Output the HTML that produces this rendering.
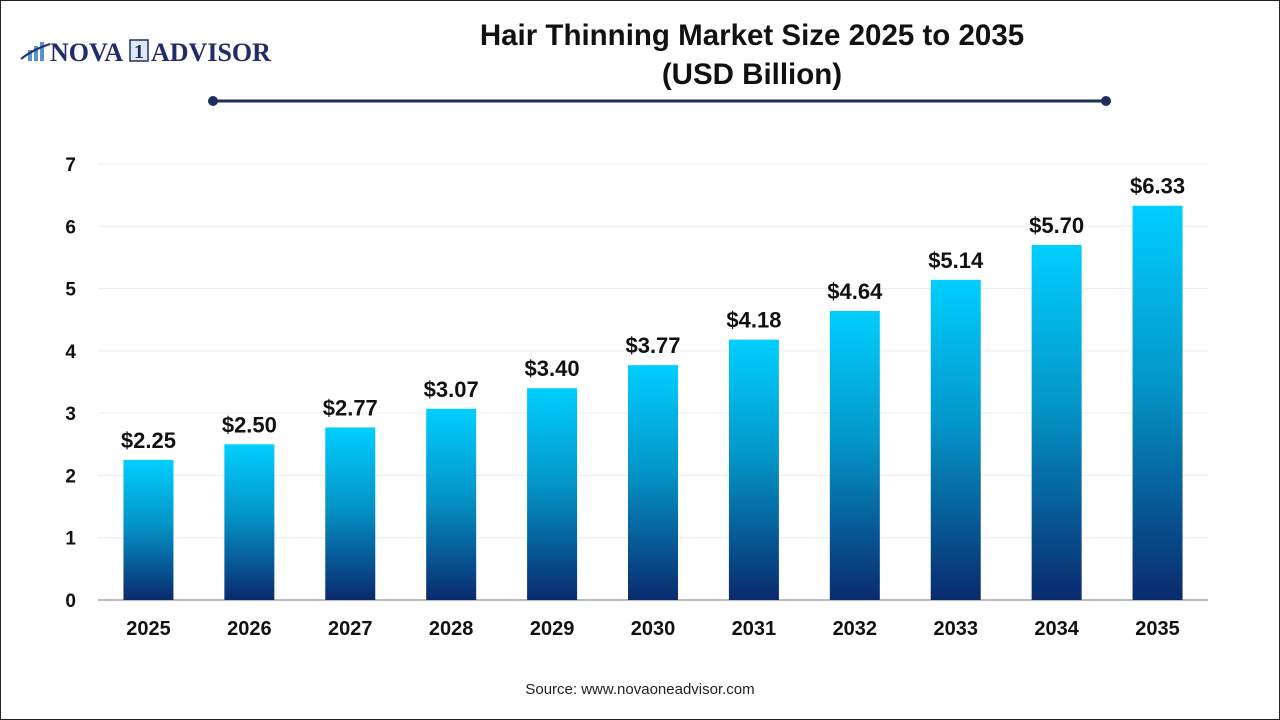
<!DOCTYPE html>
<html><head><meta charset="utf-8">
<style>
html,body{margin:0;padding:0;background:#fff;}
body{width:1280px;height:720px;overflow:hidden;font-family:"Liberation Sans",Arial,sans-serif;}
#frame{position:absolute;left:0;top:0;width:1278px;height:718px;border:1px solid #222;}
</style></head>
<body>
<div id="frame"></div>
<svg id="chart" width="1280" height="720" style="position:absolute;left:0;top:0">
<defs>
<linearGradient id="barGrad" x1="0" y1="0" x2="0" y2="1">
<stop offset="0" stop-color="#00cfff"/>
<stop offset="0.45" stop-color="#0396c8"/>
<stop offset="1" stop-color="#0a2a6e"/>
</linearGradient>
</defs>
<g>
<rect x="28" y="50" width="4" height="11" fill="#5b8fd6"/>
<rect x="34" y="46" width="4" height="15" fill="#5b8fd6"/>
<rect x="40" y="42" width="4" height="19" fill="#5b8fd6"/>
<path d="M21 59 Q32 50 50 44" stroke="#1f2d6b" stroke-width="2" fill="none"/>
<text x="50" y="61" font-family="Liberation Serif,serif" font-weight="bold" font-size="26" fill="#1f2d6b">NOVA</text>
<rect x="130" y="40" width="18" height="21" fill="#dfe8f5" stroke="#1f2d6b" stroke-width="1.5"/>
<text x="139" y="58" text-anchor="middle" font-family="Liberation Serif,serif" font-weight="bold" font-size="20" fill="#1f2d6b">1</text>
<text x="151" y="61" font-family="Liberation Serif,serif" font-weight="bold" font-size="26" fill="#1f2d6b">ADVISOR</text>
</g>
<text x="752" y="45" text-anchor="middle" font-weight="bold" font-size="29.5" fill="#111">Hair Thinning Market Size 2025 to 2035</text>
<text x="752" y="84" text-anchor="middle" font-weight="bold" font-size="29.5" fill="#111">(USD Billion)</text>
<line x1="213" y1="101" x2="1106" y2="101" stroke="#1f2d5e" stroke-width="3"/>
<circle cx="213" cy="101" r="5" fill="#1f2d5e"/>
<circle cx="1106" cy="101" r="5" fill="#1f2d5e"/>
<g id="grid"></g>
<g id="bars"></g>
<text x="640" y="694" text-anchor="middle" font-size="15" fill="#222">Source: www.novaoneadvisor.com</text>
</svg>
<script>
const categories=["2025","2026","2027","2028","2029","2030","2031","2032","2033","2034","2035"];
const values=[2.25,2.50,2.77,3.07,3.40,3.77,4.18,4.64,5.14,5.70,6.33];
const valueLabels=["$2.25","$2.50","$2.77","$3.07","$3.40","$3.77","$4.18","$4.64","$5.14","$5.70","$6.33"];
const yTicks=[0,1,2,3,4,5,6,7];
const NS="http://www.w3.org/2000/svg";
const plotL=98,plotR=1208,y0=600,yTop=164,yMax=7;
function yScale(v){return y0-(v/yMax)*(y0-yTop);}
const step=(plotR-plotL)/categories.length;
function xCenter(i){return plotL+step*(i+0.5);}
const barW=50;
function mk(tag,attrs,parent){const e=document.createElementNS(NS,tag);for(const k in attrs)e.setAttribute(k,attrs[k]);parent.appendChild(e);return e;}
const grid=document.getElementById('grid'),bars=document.getElementById('bars');
yTicks.forEach(t=>{
  const y=yScale(t);
  if(t>0){const l=mk('line',{x1:plotL,x2:plotR,y1:y,y2:y,stroke:'#ececec','stroke-width':1},grid);
  
  }
  const tx=mk('text',{x:76,y:y+7,'text-anchor':'end','font-size':19,'font-weight':'bold',fill:'#111'},grid);
  tx.textContent=t;
  
  
});
const ax=mk('line',{x1:plotL,x2:plotR,y1:y0,y2:y0,stroke:'#bbb','stroke-width':2},grid);


categories.forEach((c,i)=>{
  const cx=xCenter(i),yv=yScale(values[i]);
  const r=mk('rect',{x:cx-barW/2,y:yv,width:barW,height:y0-yv,fill:'url(#barGrad)'},bars);
  
  
  const vl=mk('text',{x:cx,y:yv-12,'text-anchor':'middle','font-size':22,'font-weight':'bold',fill:'#111'},bars);
  vl.textContent=valueLabels[i];
  
  
  const xl=mk('text',{x:cx,y:635,'text-anchor':'middle','font-size':20,'font-weight':'bold',fill:'#111'},bars);
  xl.textContent=c;
  
  
});
</script>
</body></html>
